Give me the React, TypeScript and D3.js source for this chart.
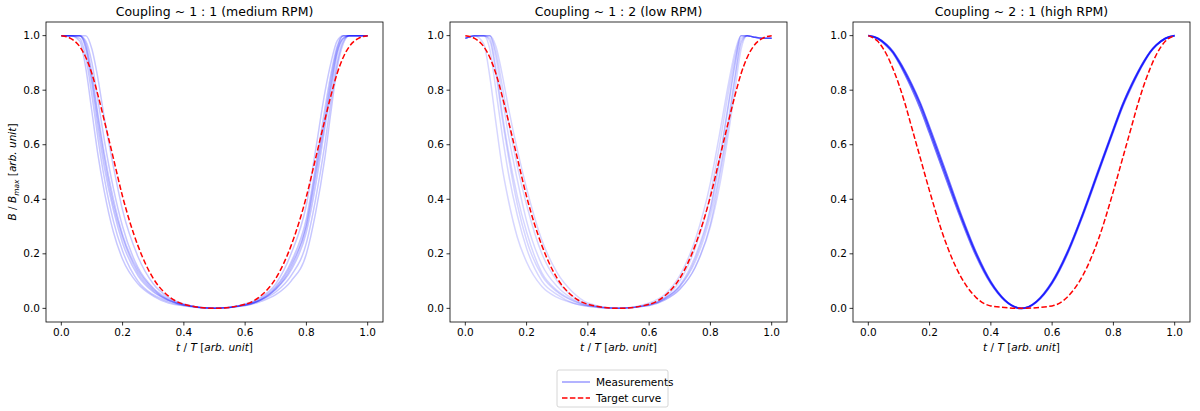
import React from "react";
import * as d3 from "d3";

const T = [0, 0.03, 0.06, 0.08, 0.1, 0.12, 0.14, 0.17, 0.2, 0.25, 0.3, 0.35, 0.4, 0.5, 0.6, 0.65, 0.7, 0.75, 0.8, 0.83, 0.86, 0.88, 0.9, 0.92, 0.94, 0.97, 1];

const titles = ["Coupling ~ 1 : 1 (medium RPM)", "Coupling ~ 1 : 2 (low RPM)", "Coupling ~ 2 : 1 (high RPM)"];
const ticks = [0, 0.2, 0.4, 0.6, 0.8, 1.0];

const target1 = [1, 0.99, 0.96, 0.92, 0.86, 0.78, 0.69, 0.55, 0.41, 0.23, 0.11, 0.045, 0.015, 0, 0.015, 0.045, 0.11, 0.23, 0.41, 0.55, 0.69, 0.78, 0.86, 0.92, 0.96, 0.99, 1];
const target3 = [1, 0.98, 0.93, 0.88, 0.82, 0.75, 0.67, 0.55, 0.43, 0.25, 0.12, 0.042, 0.009, 0, 0.009, 0.042, 0.12, 0.25, 0.43, 0.55, 0.67, 0.75, 0.82, 0.88, 0.93, 0.98, 1];

const meas1 = [
  [1, 1, 0.98, 0.88, 0.72, 0.56, 0.43, 0.28, 0.18, 0.09, 0.045, 0.02, 0.01, 0, 0.01, 0.025, 0.05, 0.1, 0.2, 0.35, 0.55, 0.72, 0.88, 0.97, 1, 1, 1],
  [1, 1, 1, 0.95, 0.82, 0.66, 0.52, 0.36, 0.24, 0.12, 0.06, 0.03, 0.012, 0, 0.012, 0.03, 0.07, 0.14, 0.28, 0.45, 0.66, 0.8, 0.93, 0.99, 1, 1, 1],
  [1, 1, 1, 0.98, 0.9, 0.76, 0.62, 0.44, 0.3, 0.15, 0.075, 0.035, 0.014, 0, 0.014, 0.035, 0.08, 0.17, 0.33, 0.52, 0.73, 0.86, 0.96, 1, 1, 1, 1],
  [1, 1, 1, 1, 0.95, 0.84, 0.7, 0.52, 0.36, 0.19, 0.09, 0.04, 0.016, 0, 0.016, 0.04, 0.09, 0.2, 0.38, 0.58, 0.79, 0.9, 0.98, 1, 1, 1, 1],
  [1, 1, 0.99, 0.92, 0.78, 0.62, 0.48, 0.32, 0.21, 0.1, 0.05, 0.025, 0.01, 0, 0.01, 0.03, 0.06, 0.12, 0.24, 0.4, 0.6, 0.76, 0.9, 0.98, 1, 1, 1],
  [1, 1, 1, 0.97, 0.86, 0.71, 0.57, 0.4, 0.27, 0.14, 0.07, 0.03, 0.013, 0, 0.013, 0.032, 0.075, 0.16, 0.31, 0.5, 0.7, 0.84, 0.95, 1, 1, 1, 1],
  [1, 1, 1, 0.96, 0.84, 0.69, 0.55, 0.38, 0.26, 0.13, 0.065, 0.03, 0.012, 0, 0.012, 0.03, 0.07, 0.15, 0.3, 0.48, 0.68, 0.82, 0.94, 0.99, 1, 1, 1],
];

const meas2 = [
  [0.99, 1, 0.97, 0.85, 0.68, 0.52, 0.4, 0.26, 0.17, 0.08, 0.04, 0.02, 0.008, 0, 0.01, 0.03, 0.07, 0.15, 0.3, 0.45, 0.65, 0.8, 0.95, 1, 0.995, 0.99, 0.99],
  [0.99, 1, 1, 0.95, 0.8, 0.64, 0.5, 0.34, 0.22, 0.1, 0.05, 0.02, 0.008, 0, 0.012, 0.035, 0.08, 0.17, 0.34, 0.5, 0.7, 0.85, 0.98, 1, 0.995, 0.99, 0.99],
  [0.99, 1, 1, 1, 0.92, 0.78, 0.64, 0.47, 0.32, 0.16, 0.08, 0.035, 0.012, 0, 0.012, 0.035, 0.08, 0.18, 0.36, 0.54, 0.75, 0.89, 1, 1, 0.995, 0.99, 0.99],
  [0.99, 1, 1, 1, 0.96, 0.86, 0.74, 0.58, 0.44, 0.25, 0.13, 0.06, 0.02, 0, 0.015, 0.04, 0.1, 0.22, 0.42, 0.6, 0.8, 0.92, 1, 1, 0.995, 0.99, 0.99],
  [0.99, 1, 1, 0.99, 0.88, 0.72, 0.58, 0.41, 0.28, 0.13, 0.065, 0.03, 0.01, 0, 0.01, 0.03, 0.07, 0.15, 0.31, 0.48, 0.68, 0.84, 0.97, 1, 0.995, 0.99, 0.99],
  [0.99, 1, 1, 1, 0.94, 0.82, 0.69, 0.52, 0.38, 0.2, 0.1, 0.045, 0.015, 0, 0.02, 0.05, 0.12, 0.25, 0.46, 0.64, 0.83, 0.94, 1, 1, 0.995, 0.99, 0.99],
  [0.99, 1, 1, 0.98, 0.86, 0.7, 0.56, 0.38, 0.25, 0.12, 0.06, 0.028, 0.01, 0, 0.013, 0.036, 0.085, 0.19, 0.37, 0.55, 0.76, 0.9, 0.99, 1, 0.995, 0.99, 0.99],
];

const meas3 = [
  [1, 0.99, 0.965, 0.94, 0.905, 0.865, 0.82, 0.745, 0.655, 0.5, 0.345, 0.205, 0.095, 0, 0.095, 0.205, 0.345, 0.5, 0.655, 0.745, 0.82, 0.865, 0.905, 0.94, 0.965, 0.99, 1],
  [1, 0.99, 0.962, 0.937, 0.9, 0.857, 0.81, 0.732, 0.642, 0.487, 0.335, 0.197, 0.091, 0, 0.092, 0.2, 0.34, 0.495, 0.65, 0.74, 0.815, 0.861, 0.902, 0.938, 0.964, 0.99, 1],
  [1, 0.991, 0.967, 0.943, 0.909, 0.87, 0.826, 0.752, 0.664, 0.51, 0.352, 0.21, 0.098, 0, 0.098, 0.208, 0.348, 0.504, 0.658, 0.748, 0.823, 0.867, 0.907, 0.941, 0.966, 0.99, 1],
];

const panels = [
  { meas: meas1, target: target1, x0: 46, opacity: 0.22, width: 1.5 },
  { meas: meas2, target: target1, x0: 450, opacity: 0.16, width: 1.5 },
  { meas: meas3, target: target3, x0: 853, opacity: 0.55, width: 1.8 },
];

const W = 337;
const top = 22;
const bottom = 322;
const font = "DejaVu Sans, sans-serif";

function Panel({ p, i }: { p: (typeof panels)[number]; i: number }) {
  const x = d3.scaleLinear().domain([-0.05, 1.05]).range([p.x0, p.x0 + W]);
  const y = d3.scaleLinear().domain([-0.05, 1.05]).range([bottom, top]);
  const line = d3
    .line<number>()
    .x((_, k) => x(T[k]))
    .y((v) => y(v))
    .curve(d3.curveMonotoneX);
  return (
    <g>
      <text x={p.x0 + W / 2} y={16} textAnchor="middle" fontSize={12.5} fontFamily={font}>
        {titles[i]}
      </text>
      {p.meas.map((m, k) => (
        <path key={k} d={line(m)!} fill="none" stroke="blue" strokeOpacity={p.opacity} strokeWidth={p.width} />
      ))}
      <path d={line(p.target)!} fill="none" stroke="red" strokeWidth={1.5} strokeDasharray="5.5 2.4" />
      <rect x={p.x0} y={top} width={W} height={bottom - top} fill="none" stroke="#000" strokeWidth={0.8} />
      {ticks.map((t) => (
        <g key={"x" + t}>
          <line x1={x(t)} x2={x(t)} y1={bottom} y2={bottom + 3.5} stroke="#000" strokeWidth={0.8} />
          <text x={x(t)} y={bottom + 14} textAnchor="middle" fontSize={10.5} fontFamily={font}>
            {t.toFixed(1)}
          </text>
          <line x1={p.x0 - 3.5} x2={p.x0} y1={y(t)} y2={y(t)} stroke="#000" strokeWidth={0.8} />
          <text x={p.x0 - 6} y={y(t) + 3.5} textAnchor="end" fontSize={10.5} fontFamily={font}>
            {t.toFixed(1)}
          </text>
        </g>
      ))}
      <text x={p.x0 + W / 2} y={bottom + 29} textAnchor="middle" fontSize={10.5} fontFamily={font}>
        <tspan fontStyle="italic">t</tspan> / <tspan fontStyle="italic">T</tspan> [<tspan fontStyle="italic">arb.</tspan> <tspan fontStyle="italic">unit</tspan>]
      </text>
      {i === 0 && (
        <text transform={`translate(16,${(top + bottom) / 2}) rotate(-90)`} textAnchor="middle" fontSize={10.5} fontFamily={font}>
          <tspan fontStyle="italic">B</tspan> / <tspan fontStyle="italic">B</tspan>
          <tspan fontStyle="italic" fontSize={7.5} dy={2.5}>max</tspan>
          <tspan dy={-2.5}> [</tspan><tspan fontStyle="italic">arb.</tspan> <tspan fontStyle="italic">unit</tspan>]
        </text>
      )}
    </g>
  );
}

export default function App() {
  return (
    <svg width={1200} height={411} style={{ position: "absolute", left: 0, top: 0, background: "#fff" }}>
      {panels.map((p, i) => (
        <Panel key={i} p={p} i={i} />
      ))}
      <g>
        <rect x={557} y={370} width={111} height={37} fill="#fff" stroke="#ccc" strokeWidth={0.8} rx={2} />
        <line x1={562} x2={590} y1={382} y2={382} stroke="blue" strokeOpacity={0.4} strokeWidth={1.5} />
        <text x={596} y={386} fontSize={10.5} fontFamily={font}>Measurements</text>
        <line x1={562} x2={590} y1={398} y2={398} stroke="red" strokeWidth={1.5} strokeDasharray="5.5 2.4" />
        <text x={596} y={402} fontSize={10.5} fontFamily={font}>Target curve</text>
      </g>
    </svg>
  );
}
